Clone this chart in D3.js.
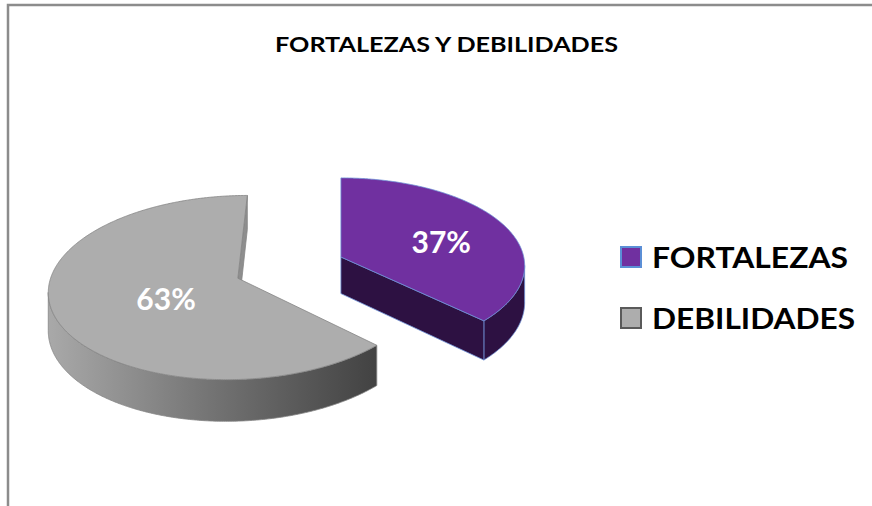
<!DOCTYPE html>
<html>
<head>
<meta charset="utf-8">
<script src="https://cdn.jsdelivr.net/npm/d3@7"></script>
<style>
  body { margin: 0; background: #fff; }
  svg { display: block; font-family: Lato, "Open Sans", sans-serif; }
</style>
</head>
<body>
<svg class="chart" width="872" height="506"></svg>
<script>
let categories = ['FORTALEZAS', 'DEBILIDADES'];
let values = [37, 63];
let title = 'FORTALEZAS Y DEBILIDADES';

// look of the 3d pie
let topColor = d3.scaleOrdinal().domain(categories).range(['#7030a0', '#adadad']);
let edgeColor = d3.scaleOrdinal().domain(categories).range(['#6d8fd6', '#858585']);
let legendStroke = d3.scaleOrdinal().domain(categories).range(['#5b8fd6', '#5a5a5a']);

let X0 = 290, Y0 = 267.5;   // pie centre before explode
let VX = 341;               // where the perspective pulls to
let RX = 185, RY = 89;      // radius on screen
let depth = 37;             // thickness
let persp = 0.1;
let explode = 0.3;

let svg = d3.select('svg.chart');
let defs = svg.append('defs');

// frame (only top and left side show in the picture)
svg.append('path')
  .attr('d', 'M8,506V5H872')
  .style('fill', 'none')
  .style('stroke', '#8c8c8c')
  .style('stroke-width', '2.5px');

svg.append('text')
  .attr('x', 446.5)
  .attr('y', 51.5)
  .attr('text-anchor', 'middle')
  .attr('textLength', 343)
  .attr('lengthAdjust', 'spacingAndGlyphs')
  .style('font-size', '20.5px')
  .style('font-weight', 'bold')
  .style('fill', '#000')
  .text(title);

function project(u, v, h){
  let s = 1 / (1 + persp * v);
  return [VX + (X0 - VX + RX * u) * s, Y0 - RY * v * s + h * depth * s];
}

function area(pts){
  let a = 0;
  pts.forEach((p, i) => {
    let q = pts[(i + 1) % pts.length];
    a += p[0] * q[1] - q[0] * p[1];
  });
  return a / 2;
}

let line = d3.line();

let pie = d3.pie().sort(null).value(d => d.value);
let arcs = pie(categories.map((c, i) => ({name: c, value: values[i]})));

let slices = svg.append('g').attr('class', 'slices');

arcs.forEach(a => {
  let name = a.data.name;
  let mid = (a.startAngle + a.endAngle) / 2;
  let cu = explode * Math.sin(mid);
  let cv = explode * Math.cos(mid);
  let rim = (t, h, r = 1) => project(cu + r * Math.sin(t), cv + r * Math.cos(t), h);
  let apex = h => project(cu, cv, h);

  let steps = d3.range(a.startAngle, a.endAngle, Math.PI / 360).concat([a.endAngle]);
  let g = slices.append('g').attr('class', 'slice');

  // outer wall, only the runs that face us
  let runs = [];
  let cur = null;
  for (let i = 0; i < steps.length - 1; i++){
    let quad = [rim(steps[i], 0), rim(steps[i + 1], 0), rim(steps[i + 1], 1), rim(steps[i], 1)];
    if (area(quad) < 0){
      if (!cur){ cur = [steps[i]]; runs.push(cur); }
      cur.push(steps[i + 1]);
    } else {
      cur = null;
    }
  }

  let wallFill;
  if (name == 'DEBILIDADES'){
    let xs = runs.flat().map(t => rim(t, 0)[0]);
    let grad = defs.append('linearGradient')
      .attr('id', 'wallGrey')
      .attr('gradientUnits', 'userSpaceOnUse')
      .attr('x1', d3.min(xs)).attr('x2', d3.max(xs))
      .attr('y1', 0).attr('y2', 0);
    grad.append('stop').attr('offset', '0%').attr('stop-color', '#a9a9a9');
    grad.append('stop').attr('offset', '50%').attr('stop-color', '#737373');
    grad.append('stop').attr('offset', '100%').attr('stop-color', '#424242');
    wallFill = 'url(#wallGrey)';
  } else {
    wallFill = '#2d1142';
  }

  runs.forEach(run => {
    let pts = run.map(t => rim(t, 0)).concat(run.slice().reverse().map(t => rim(t, 1)));
    g.append('path')
      .attr('d', line(pts) + 'Z')
      .style('fill', wallFill)
      .style('stroke', edgeColor(name))
      .style('stroke-width', '0.8px')
      .style('stroke-linejoin', 'round');
  });

  // cut faces
  [[a.startAngle, -1], [a.endAngle, 1]].forEach(([t, sign]) => {
    let face = [apex(0), rim(t, 0), rim(t, 1), apex(1)];
    if (area(face) * sign <= 0) return;
    g.append('path')
      .attr('d', line(face) + 'Z')
      .style('fill', name == 'DEBILIDADES' ? '#8e8e8e' : '#2d1142')
      .style('stroke', edgeColor(name))
      .style('stroke-width', '0.8px')
      .style('stroke-linejoin', 'round');
  });

  // top face
  let topPts = [apex(0)].concat(steps.map(t => rim(t, 0)));
  g.append('path')
    .attr('d', line(topPts) + 'Z')
    .style('fill', topColor(name))
    .style('stroke', edgeColor(name))
    .style('stroke-width', '0.8px')
    .style('stroke-linejoin', 'round');

  let lp = rim(mid, 0, 0.5);
  g.append('text')
    .attr('x', lp[0] + 18)
    .attr('y', lp[1] + 2)
    .attr('text-anchor', 'middle')
    .attr('dy', '0.36em')
    .style('font-size', '30px')
    .style('font-weight', 'bold')
    .style('fill', '#fff')
    .text(Math.round(a.data.value / d3.sum(values) * 100) + '%');
});

// legend
let legend = svg.append('g')
  .attr('class', 'legend')
  .selectAll('g')
  .data(categories)
  .enter()
  .append('g')
  .attr('transform', (d, i) => `translate(620, ${246 + i * 61})`);

legend.append('rect')
  .attr('x', 1).attr('y', 1)
  .attr('width', 20).attr('height', 20)
  .style('fill', d => topColor(d))
  .style('stroke', d => legendStroke(d))
  .style('stroke-width', '2px');

legend.append('text')
  .attr('x', 32)
  .attr('y', 22)
  .attr('textLength', (d, i) => i == 0 ? 196 : 203)
  .attr('lengthAdjust', 'spacingAndGlyphs')
  .style('font-size', '28px')
  .style('font-weight', 'bold')
  .style('fill', '#000')
  .text(d => d);
</script>
</body>
</html>
